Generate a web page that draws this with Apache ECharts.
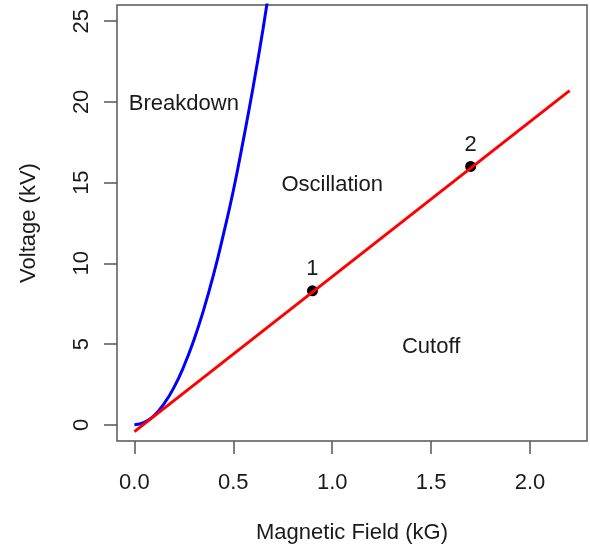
<!DOCTYPE html>
<html><head><meta charset="utf-8">
<script src="https://cdn.jsdelivr.net/npm/echarts@6/dist/echarts.min.js"></script>
<style>html,body{margin:0;padding:0;background:#fff}#c{width:590px;height:545px}</style>
</head><body><div id="c"></div>
<script>
// Hull cutoff (blue) curve
var blueB = [0, 0.05, 0.1, 0.15, 0.2, 0.25, 0.3, 0.35, 0.4, 0.45, 0.5, 0.55, 0.6, 0.65, 0.7];
var blueV = [0, 0.15, 0.58, 1.31, 2.32, 3.63, 5.23, 7.12, 9.3, 11.8, 14.5, 17.6, 20.9, 24.5, 28.4];
// Hartree (red) line
var redB = [0, 2.2];
var redV = [-0.42, 20.7];
// Operating points
var ptB = [0.9, 1.7];
var ptV = [8.3, 16.0];
var ptLabels = ['1', '2'];
// Region labels
var regionNames = ['Breakdown', 'Oscillation', 'Cutoff'];
var regionB = [0.25, 1.0, 1.5];
var regionV = [19.85, 14.85, 4.85];
// Ticks
var xTicks = [0, 0.5, 1.0, 1.5, 2.0];
var xTickLabels = ['0.0', '0.5', '1.0', '1.5', '2.0'];
var yTicks = [0, 5, 10, 15, 20, 25];

var FONT = 'Liberation Sans, Arial, sans-serif';
var TXT = '#1a1a1a';
var FS = 22;
var chart = echarts.init(document.getElementById('c'));
function zip(a, b) { return a.map(function (v, i) { return [v, b[i]]; }); }

chart.setOption({
  animation: false,
  grid: { left: 117, top: 5, right: 3, bottom: 104, show: true, borderColor: '#555', borderWidth: 1.5,
          containLabel: false, outerBoundsMode: 'none' },
  xAxis: {
    type: 'value', min: -0.088, max: 2.288,
    name: 'Magnetic Field (kG)', nameLocation: 'middle', nameGap: 81,
    nameTextStyle: { fontFamily: FONT, fontSize: FS, color: TXT },
    axisLine: { show: false, onZero: false },
    splitLine: { show: false },
    axisTick: { show: true, length: 13, inside: false, customValues: xTicks, lineStyle: { color: '#555', width: 1.5 } },
    axisLabel: { customValues: xTicks, margin: 31, fontFamily: FONT, fontSize: FS, color: TXT,
      formatter: function (v) { var i = xTicks.indexOf(v); return i >= 0 ? xTickLabels[i] : ''; } }
  },
  yAxis: {
    type: 'value', min: -1, max: 26,
    name: 'Voltage (kV)', nameLocation: 'middle', nameGap: 77, nameRotate: 90,
    nameTextStyle: { fontFamily: FONT, fontSize: FS, color: TXT },
    axisLine: { show: false, onZero: false },
    splitLine: { show: false },
    axisTick: { show: true, length: 13, customValues: yTicks, lineStyle: { color: '#555', width: 1.5 } },
    axisLabel: { customValues: yTicks, rotate: 90, margin: 24, fontFamily: FONT, fontSize: FS, color: TXT }
  },
  series: [
    { type: 'line', data: zip(blueB, blueV), smooth: true, symbol: 'none', clip: true,
      lineStyle: { color: '#0000ff', width: 3 } },
    { type: 'line', data: zip(redB, redV), symbol: 'none', clip: true,
      lineStyle: { color: '#ff0000', width: 3 } },
    { type: 'scatter', data: zip(ptB, ptV).map(function (p, i) { return { value: p, name: ptLabels[i] }; }),
      symbolSize: 11, itemStyle: { color: '#000', opacity: 1 },
      label: { show: true, position: 'top', distance: 5, formatter: '{b}', fontFamily: FONT, fontSize: FS, color: TXT } },
    { type: 'scatter', data: zip(regionB, regionV).map(function (p, i) { return { value: p, name: regionNames[i] }; }),
      symbolSize: 1, silent: true, itemStyle: { color: 'rgba(0,0,0,0)', opacity: 1 },
      label: { show: true, position: 'inside', formatter: '{b}', fontFamily: FONT, fontSize: FS, color: TXT, opacity: 1 } }
  ]
});
</script></body></html>
